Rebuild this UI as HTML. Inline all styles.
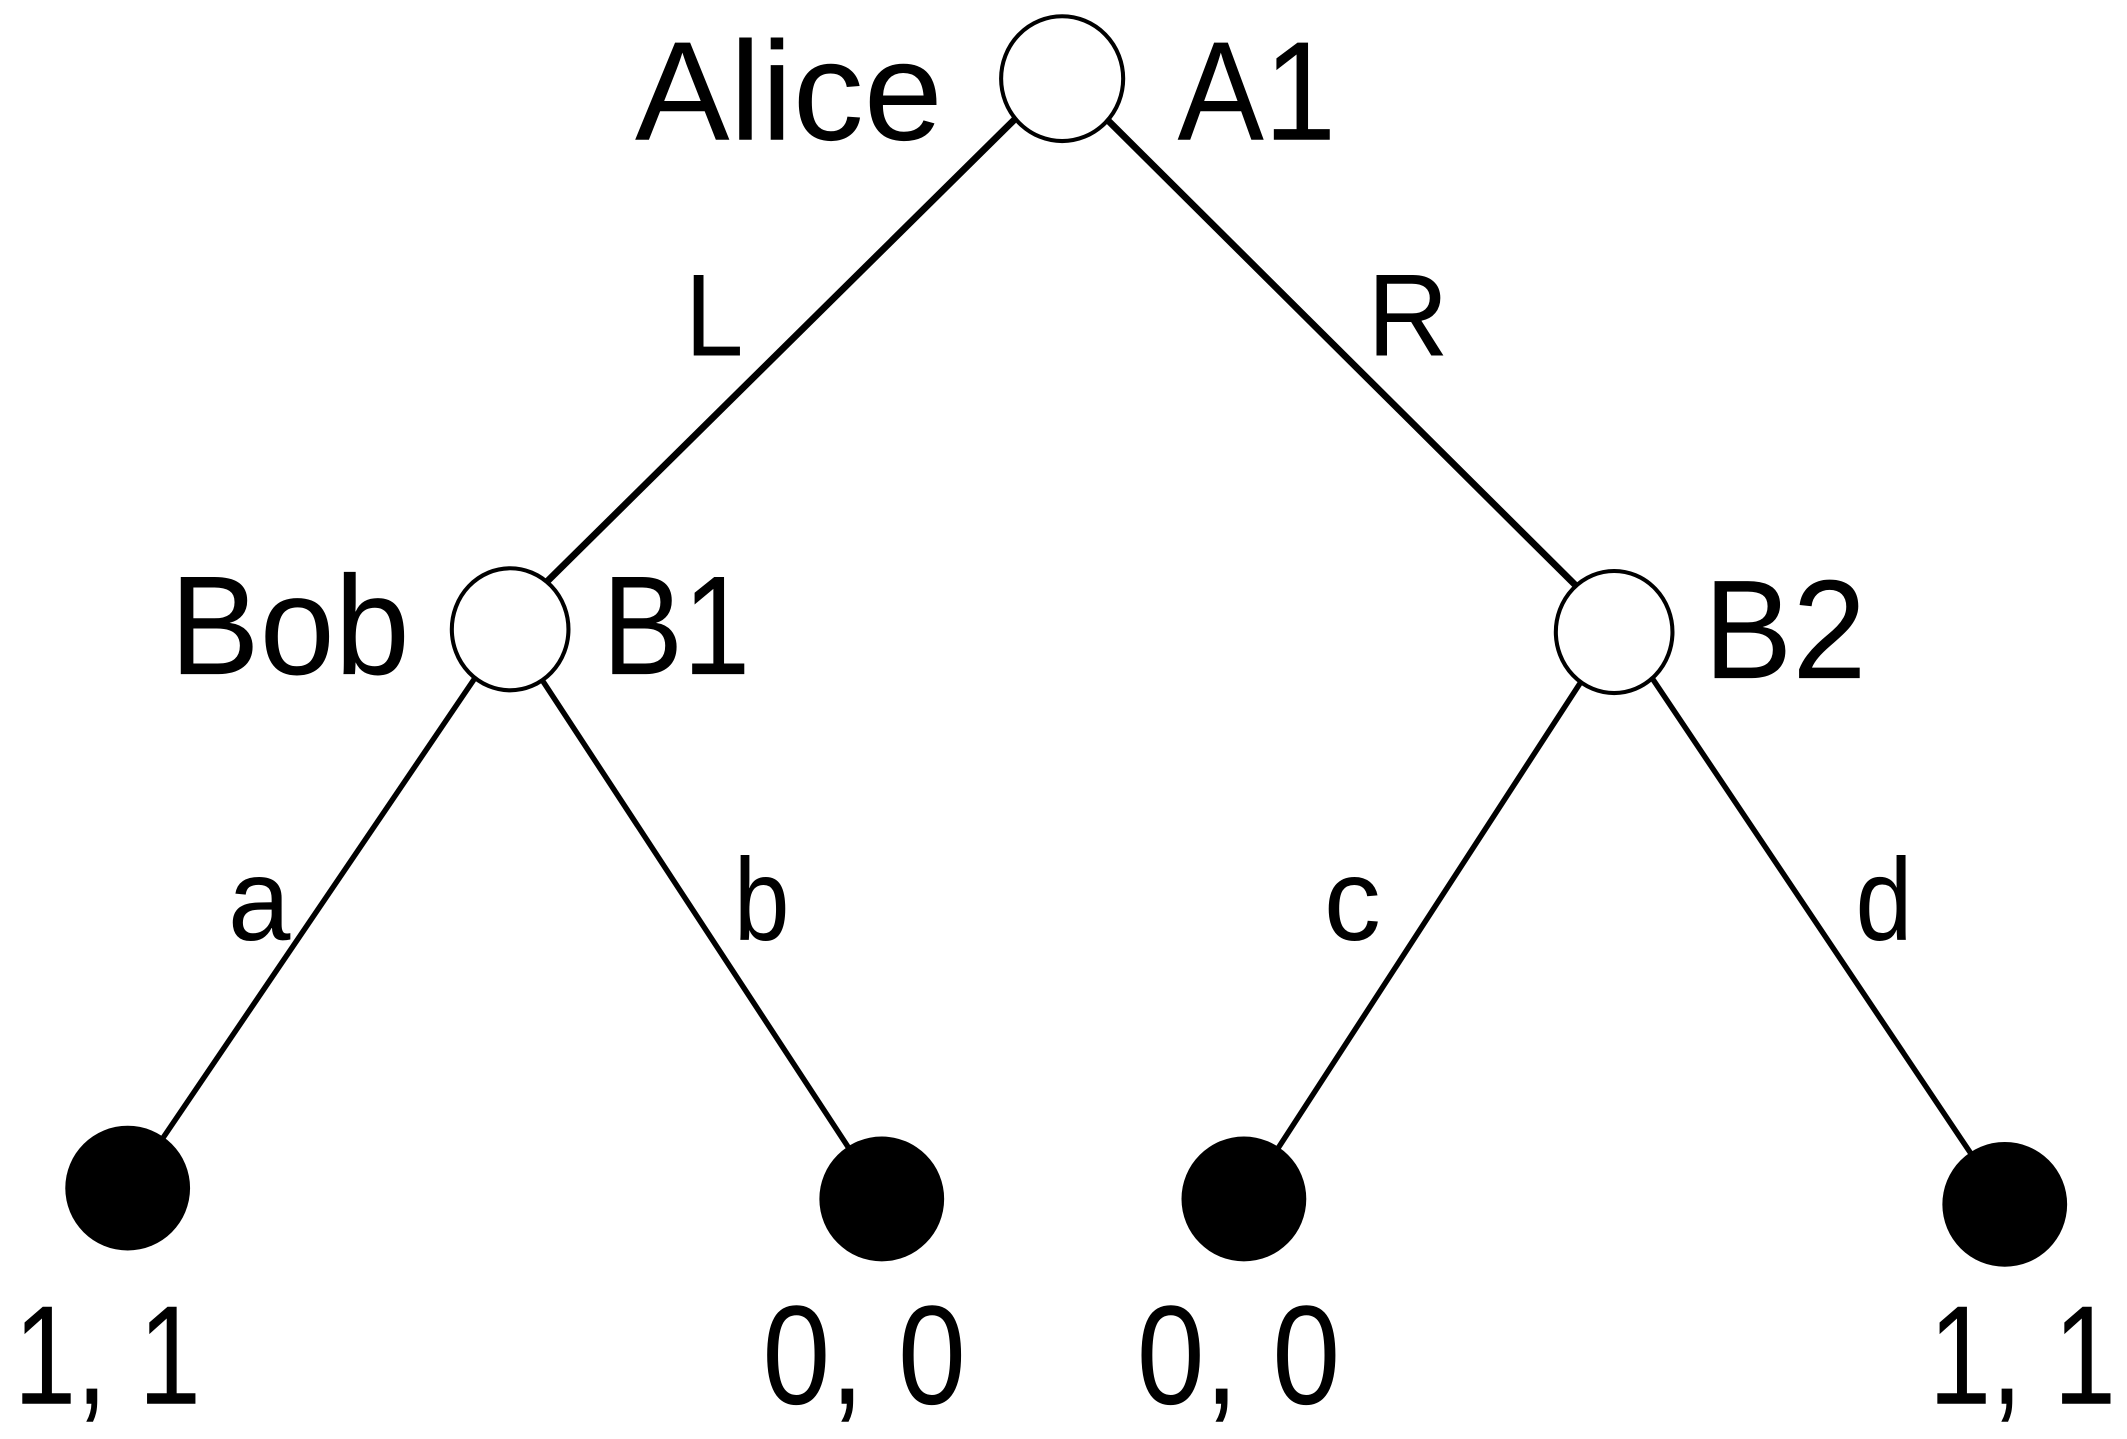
<!DOCTYPE html>
<html><head><meta charset="utf-8"><style>html,body{margin:0;padding:0;background:#fff}svg{display:block}</style></head>
<body>
<svg width="2127" height="1439" viewBox="0 0 1568 1061" xmlns="http://www.w3.org/2000/svg" font-family="Liberation Sans, Arial, sans-serif">
<rect width="1568" height="1061" fill="#fff"/>
<g stroke="#000" stroke-width="5" fill="none">
<line x1="748" y1="88" x2="402" y2="430"/>
<line x1="816" y1="88" x2="1162" y2="432"/>
</g>
<g stroke="#000" stroke-width="4" fill="none">
<line x1="350" y1="500" x2="118" y2="842"/>
<line x1="400" y1="502" x2="628" y2="850"/>
<line x1="1166" y1="502" x2="940" y2="850"/>
<line x1="1218" y1="500" x2="1454" y2="852"/>
</g>
<g stroke="#000" stroke-width="3" fill="#fff">
<ellipse cx="783" cy="58" rx="45" ry="46"/>
<ellipse cx="376" cy="464" rx="43" ry="45"/>
<ellipse cx="1190" cy="466" rx="43" ry="45"/>
</g>
<g fill="#000">
<ellipse cx="94" cy="876" rx="46" ry="46"/>
<ellipse cx="650" cy="884" rx="46" ry="46"/>
<ellipse cx="917" cy="884" rx="46" ry="46"/>
<ellipse cx="1478" cy="888" rx="46" ry="46"/>
</g>
<g fill="#000" font-size="104">
<text x="468" y="103" textLength="227" lengthAdjust="spacingAndGlyphs">Alice</text>
<text x="868" y="103" textLength="117" lengthAdjust="spacingAndGlyphs">A1</text>
<text x="125" y="497" textLength="177" lengthAdjust="spacingAndGlyphs">Bob</text>
<text x="444" y="497" textLength="109" lengthAdjust="spacingAndGlyphs">B1</text>
<text x="1256" y="500" textLength="120" lengthAdjust="spacingAndGlyphs">B2</text>
</g>
<g fill="#000" font-size="86">
<text x="505" y="262" textLength="43" lengthAdjust="spacingAndGlyphs">L</text>
<text x="1008" y="262" textLength="60" lengthAdjust="spacingAndGlyphs">R</text>
<text x="168" y="693" textLength="46" lengthAdjust="spacingAndGlyphs">a</text>
<text x="541" y="693" textLength="41" lengthAdjust="spacingAndGlyphs">b</text>
<text x="976" y="693" textLength="42" lengthAdjust="spacingAndGlyphs">c</text>
<text x="1368" y="693" textLength="42" lengthAdjust="spacingAndGlyphs">d</text>
</g>
<g fill="#000" font-size="104">
<text x="10" y="1035" textLength="138" lengthAdjust="spacingAndGlyphs">1, 1</text>
<text x="562" y="1035" textLength="150" lengthAdjust="spacingAndGlyphs">0, 0</text>
<text x="838" y="1035" textLength="150" lengthAdjust="spacingAndGlyphs">0, 0</text>
<text x="1422" y="1035" textLength="138" lengthAdjust="spacingAndGlyphs">1, 1</text>
</g>
</svg>
</body></html>
